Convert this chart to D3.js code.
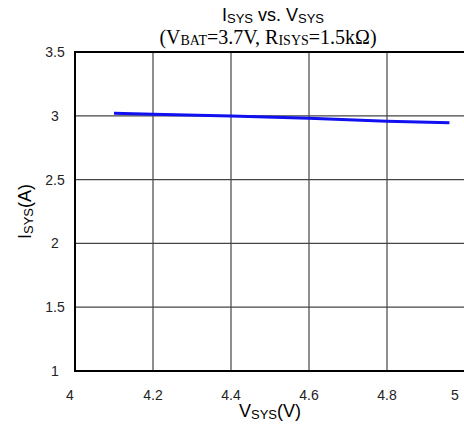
<!DOCTYPE html>
<html>
<head>
<meta charset="utf-8">
<script src="https://cdn.jsdelivr.net/npm/d3@7"></script>
<style>
  body { margin: 0; background: #fff; }
</style>
</head>
<body>
<div id="chart"></div>
<script>
// 数据
const vsys = [4.1, 4.2, 4.4, 4.6, 4.8, 4.96];
const isys = [3.02, 3.012, 2.998, 2.98, 2.958, 2.945];
const xTicks = [4, 4.2, 4.4, 4.6, 4.8, 5];
const yTicks = [1, 1.5, 2, 2.5, 3, 3.5];

drawChart();

function drawChart() {
    const W = 464, H = 426;
    const margin = { top: 52, right: -1, bottom: 55, left: 75 };
    const width = W - margin.left - margin.right;
    const height = H - margin.top - margin.bottom;

    const svg = d3.select("#chart").append("svg")
        .attr("width", W)
        .attr("height", H);

    const g = svg.append("g")
        .attr("transform", `translate(${margin.left},${margin.top})`);

    const x = d3.scaleLinear().domain([4, 5]).range([0, width]);
    const y = d3.scaleLinear().domain([1, 3.5]).range([height, 0]);

    // 网格
    g.selectAll(".vgrid")
        .data(xTicks.slice(1, -1))
        .enter().append("line")
        .attr("x1", d => x(d)).attr("x2", d => x(d))
        .attr("y1", 0).attr("y2", height)
        .attr("stroke", "#444")
        .attr("stroke-width", 1.2);

    g.selectAll(".hgrid")
        .data(yTicks.slice(1, -1))
        .enter().append("line")
        .attr("x1", 0).attr("x2", width)
        .attr("y1", d => y(d)).attr("y2", d => y(d))
        .attr("stroke", "#444")
        .attr("stroke-width", 1.2);

    // 边框
    g.append("rect")
        .attr("x", 0).attr("y", 0)
        .attr("width", width).attr("height", height)
        .attr("fill", "none")
        .attr("stroke", "#000")
        .attr("stroke-width", 2);

    // 刻度标签 (两端略作偏移，与原图一致)
    g.selectAll(".xlab")
        .data(xTicks)
        .enter().append("text")
        .attr("x", (d, i) => i === 0 ? x(d) - 5 : Math.min(x(d), width - 10))
        .attr("y", height + 29)
        .attr("text-anchor", "middle")
        .attr("font-family", "Liberation Sans, Arial, sans-serif")
        .attr("font-size", 14)
        .attr("fill", "#222")
        .text(d => d);

    g.selectAll(".ylab")
        .data(yTicks)
        .enter().append("text")
        .attr("x", -20)
        .attr("y", d => y(d) + 5)
        .attr("text-anchor", "middle")
        .attr("font-family", "Liberation Sans, Arial, sans-serif")
        .attr("font-size", 14)
        .attr("fill", "#222")
        .text(d => d);

    // 曲线
    const line = d3.line()
        .x((d, i) => x(vsys[i]))
        .y(d => y(d));

    g.append("path")
        .datum(isys)
        .attr("d", line)
        .attr("fill", "none")
        .attr("stroke", "#1010f0")
        .attr("stroke-width", 3);

    // 标题
    const t1 = svg.append("text")
        .attr("x", 273).attr("y", 21)
        .attr("text-anchor", "middle")
        .attr("font-family", "Liberation Sans, Arial, sans-serif")
        .attr("font-size", 18);
    t1.append("tspan").text("I");
    t1.append("tspan").attr("font-size", 13).attr("dy", 2).text("SYS");
    t1.append("tspan").attr("dy", -2).text(" vs. V");
    t1.append("tspan").attr("font-size", 13).attr("dy", 2).text("SYS");

    const t2 = svg.append("text")
        .attr("x", 268).attr("y", 44)
        .attr("text-anchor", "middle")
        .attr("font-family", "Liberation Serif, Times New Roman, serif")
        .attr("font-size", 20);
    t2.append("tspan").text("(V");
    t2.append("tspan").attr("font-size", 14).attr("dy", 1).text("BAT");
    t2.append("tspan").attr("dy", -1).text("=3.7V, R");
    t2.append("tspan").attr("font-size", 14).attr("dy", 1).text("ISYS");
    t2.append("tspan").attr("dy", -1).text("=1.5kΩ)");

    // 轴标题
    const xt = svg.append("text")
        .attr("x", 270).attr("y", 417)
        .attr("text-anchor", "middle")
        .attr("font-family", "Liberation Sans, Arial, sans-serif")
        .attr("font-size", 18);
    xt.append("tspan").text("V");
    xt.append("tspan").attr("font-size", 13).attr("dy", 2).text("SYS");
    xt.append("tspan").attr("dy", -2).text("(V)");

    const yt = svg.append("text")
        .attr("transform", `translate(31,${margin.top + height / 2}) rotate(-90)`)
        .attr("text-anchor", "middle")
        .attr("font-family", "Liberation Sans, Arial, sans-serif")
        .attr("font-size", 18);
    yt.append("tspan").text("I");
    yt.append("tspan").attr("font-size", 13).attr("dy", 2).text("SYS");
    yt.append("tspan").attr("dy", -2).text("(A)");
}
</script>
</body>
</html>
